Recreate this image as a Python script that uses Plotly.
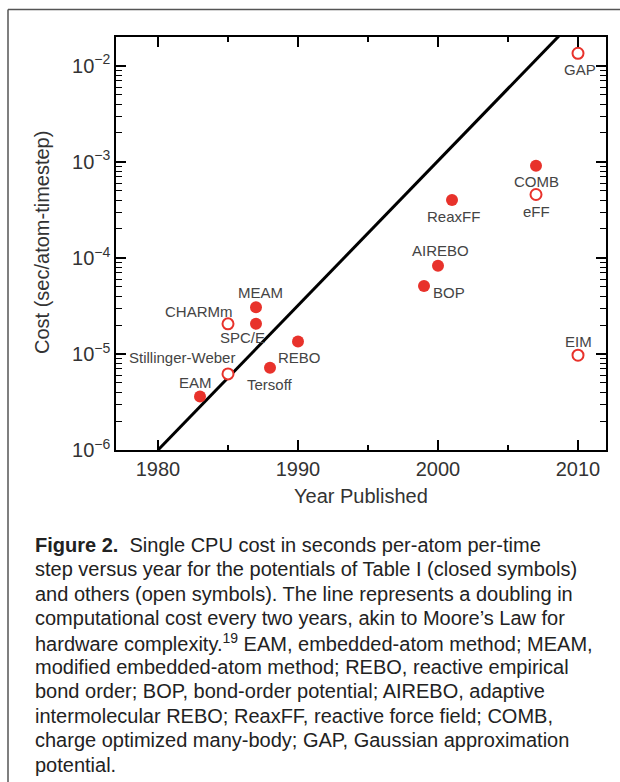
import math
import plotly.graph_objects as go

# ---- data ----
names_closed = ["EAM", "MEAM", "SPC/E", "Tersoff", "REBO", "BOP", "AIREBO", "ReaxFF", "COMB"]
years_closed = [1983, 1987, 1987, 1988, 1990, 1999, 2000, 2001, 2007]
cost_closed = [3.6e-6, 3.07e-5, 2.06e-5, 7.2e-6, 1.35e-5, 5.1e-5, 8.3e-5, 4.0e-4, 9.1e-4]

names_open = ["Stillinger-Weber", "CHARMm", "eFF", "EIM", "GAP"]
years_open = [1985, 1985, 2007, 2010, 2010]
cost_open = [6.2e-6, 2.06e-5, 4.57e-4, 9.7e-6, 1.35e-2]

# Moore's-law style line: doubling every two years starting at 1e-6 in 1980
line_years = [1980, 2010]
line_cost = [1e-6, 3.2768e-2]

x_major = [1980, 1990, 2000, 2010]
x_minor = [1985, 1995, 2005]
y_major = [1e-6, 1e-5, 1e-4, 1e-3, 1e-2]
y_ticktext = ["10<sup>\u22126</sup>", "10<sup>\u22125</sup>", "10<sup>\u22124</sup>",
              "10<sup>\u22123</sup>", "10<sup>\u22122</sup>"]

caption_lines = [
    "<b>Figure 2.</b>\u00a0 Single CPU cost in seconds per-atom per-time",
    "step versus year for the potentials of Table I (closed symbols)",
    "and others (open symbols). The line represents a doubling in",
    "computational cost every two years, akin to Moore\u2019s Law for",
    "hardware complexity.<sup>19</sup> EAM, embedded-atom method; MEAM,",
    "modified embedded-atom method; REBO, reactive empirical",
    "bond order; BOP, bond-order potential; AIREBO, adaptive",
    "intermolecular REBO; ReaxFF, reactive force field; COMB,",
    "charge optimized many-body; GAP, Gaussian approximation",
    "potential.",
]

# label placement (screen px offsets: dx right, dy down) and anchor
label_pos = {
    "EAM": (-5, -14, "center"),
    "MEAM": (4, -15, "center"),
    "SPC/E": (-14, 14, "center"),
    "Tersoff": (0, 16.5, "center"),
    "REBO": (1, 16, "center"),
    "BOP": (7, 7, "left"),
    "AIREBO": (2, -15, "center"),
    "ReaxFF": (1, 16, "center"),
    "COMB": (0, 15.5, "center"),
    "Stillinger-Weber": (9, -16, "right"),
    "CHARMm": (7, -12, "right"),
    "eFF": (0, 16.5, "center"),
    "EIM": (0, -13.5, "center"),
    "GAP": (2, 16, "center"),
}

W, H = 620, 782
L, R, T, B = 116, 606, 37, 450
PW, PH = R - L, B - T


def px(xp):
    return (xp - L) / PW


def py(yp):
    return (B - yp) / PH


FONT = "Liberation Sans, Arial, Helvetica, sans-serif"
RED = "#e8322b"

fig = go.Figure()
fig.add_trace(go.Scatter(x=line_years, y=line_cost, mode="lines",
                         line=dict(color="black", width=3), showlegend=False,
                         hoverinfo="skip"))
fig.add_trace(go.Scatter(x=years_closed, y=cost_closed, mode="markers",
                         marker=dict(size=12, color=RED, line=dict(width=0)),
                         showlegend=False, text=names_closed))
fig.add_trace(go.Scatter(x=years_open, y=cost_open, mode="markers",
                         marker=dict(size=11, color="white", line=dict(width=2, color=RED)),
                         showlegend=False, text=names_open))

annotations = []
for names, ys, cs in ((names_closed, years_closed, cost_closed), (names_open, years_open, cost_open)):
    for n, yr, c in zip(names, ys, cs):
        dx, dy, anc = label_pos[n]
        annotations.append(dict(x=yr, y=math.log10(c), xref="x", yref="y", text=n,
                                showarrow=False, xanchor=anc, yanchor="middle",
                                xshift=dx, yshift=-dy,
                                font=dict(family=FONT, size=15, color="#444444")))

# axis titles
annotations.append(dict(x=0.5, y=py(496), xref="paper", yref="paper", text="Year Published",
                        showarrow=False, xanchor="center", yanchor="middle",
                        font=dict(family=FONT, size=20, color="#333333")))
annotations.append(dict(x=px(42), y=py(243), xref="paper", yref="paper",
                        text="Cost (sec/atom-timestep)", textangle=-90,
                        showarrow=False, xanchor="center", yanchor="middle",
                        font=dict(family=FONT, size=20, color="#333333")))

# caption
for i, line in enumerate(caption_lines):
    annotations.append(dict(x=px(33), y=py(545 + 24.4 * i), xref="paper", yref="paper",
                            text=line, showarrow=False, xanchor="left", yanchor="middle",
                            font=dict(family=FONT, size=20, color="#222222")))

shapes = [
    dict(type="line", xref="paper", yref="paper", x0=px(8), x1=px(640), y0=py(9.5), y1=py(9.5),
         line=dict(color="#555555", width=1.5)),
    dict(type="line", xref="paper", yref="paper", x0=px(8), x1=px(8), y0=py(9.5), y1=py(800),
         line=dict(color="#555555", width=1.5)),
]

y_minor = [k * 10 ** e for e in range(-6, -1) for k in range(2, 10)] + [2e-2]

fig.update_layout(
    width=W, height=H,
    margin=dict(l=L, r=W - R, t=T, b=H - B, pad=0),
    paper_bgcolor="white", plot_bgcolor="white",
    showlegend=False,
    annotations=annotations,
    shapes=shapes,
    font=dict(family=FONT, color="#333333"),
)
fig.update_xaxes(range=[1977, 2012], showgrid=False, zeroline=False,
                 showline=True, linecolor="black", linewidth=1.5, mirror="allticks",
                 ticks="inside", ticklen=10, tickwidth=1.5, tickcolor="black",
                 tickmode="array", tickvals=x_major,
                 tickfont=dict(family=FONT, size=20, color="#333333"),
                 minor=dict(tickmode="array", tickvals=x_minor, ticks="inside",
                            ticklen=5, tickwidth=1.5, tickcolor="black", showgrid=False))
fig.update_yaxes(type="log", range=[-6, -1.7], showgrid=False, zeroline=False,
                 showline=True, linecolor="black", linewidth=1.5, mirror="allticks",
                 ticks="inside", ticklen=10, tickwidth=1.5, tickcolor="black",
                 tickmode="array", tickvals=y_major, ticktext=y_ticktext,
                 tickfont=dict(family=FONT, size=20, color="#333333"),
                 minor=dict(tickmode="array", tickvals=y_minor, ticks="inside",
                            ticklen=6, tickwidth=1, tickcolor="black", showgrid=False))

fig.write_html("out.html", config={"displayModeBar": False},
               post_script="document.body.style.margin='0';document.body.style.overflow='hidden';")
